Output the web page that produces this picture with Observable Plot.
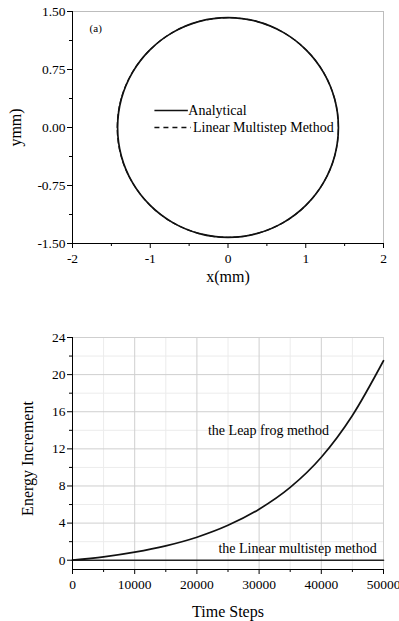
<!DOCTYPE html>
<html><head><meta charset="utf-8">
<script src="https://cdn.jsdelivr.net/npm/d3@7"></script>
<script src="https://cdn.jsdelivr.net/npm/@observablehq/plot@0.6"></script>
<style>
body{margin:0;background:#fff;}
#chart svg{display:block;}
</style>
</head><body><div id="chart"></div>
<script>
// ---------- Panel (a): trajectory ----------
const analyticalX = [1.42,1.372,1.230,1.004,0.710,0.368,0,-0.368,-0.710,-1.004,-1.230,-1.372,-1.42,-1.372,-1.230,-1.004,-0.710,-0.368,0,0.368,0.710,1.004,1.230,1.372];
const analyticalY = [0,0.368,0.710,1.004,1.230,1.372,1.42,1.372,1.230,1.004,0.710,0.368,0,-0.368,-0.710,-1.004,-1.230,-1.372,-1.42,-1.372,-1.230,-1.004,-0.710,-0.368];
const multistepX = [1.42,1.372,1.230,1.004,0.710,0.368,0,-0.368,-0.710,-1.004,-1.232,-1.376,-1.425,-1.376,-1.232,-1.004,-0.710,-0.368,0,0.368,0.710,1.004,1.230,1.372];
const multistepY = [0,0.368,0.710,1.004,1.230,1.372,1.42,1.372,1.230,1.004,0.710,0.368,0,-0.368,-0.710,-1.004,-1.230,-1.372,-1.42,-1.372,-1.230,-1.004,-0.710,-0.368];
const xTicksA = [-2,-1,0,1,2];
const xTickLabelsA = ["-2","-1","0","1","2"];
const xMinorA = [-1.5,-0.5,0.5,1.5];
const yTicksA = [-1.5,-0.75,0,0.75,1.5];
const yTickLabelsA = ["-1.50","-0.75","0.00","0.75","1.50"];
const yMinorA = [-1.125,-0.375,0.375,1.125];
const seriesNamesA = ["Analytical","Linear Multistep Method"];

// ---------- Panel (b): energy increment ----------
const timeSteps = [0,5000,10000,15000,20000,25000,30000,35000,40000,45000,50000];
const leapFrog = [0,0.36,0.87,1.55,2.48,3.76,5.5,7.85,11.1,15.6,21.5];
const linearMultistep = [0,0,0,0,0,0,0,0,0,0,0];
const xTicksB = [0,10000,20000,30000,40000,50000];
const xTickLabelsB = ["0","10000","20000","30000","40000","50000"];
const xMinorB = [5000,15000,25000,35000,45000];
const yTicksB = [0,4,8,12,16,20,24];
const yTickLabelsB = ["0","4","8","12","16","20","24"];
const yMinorB = [2,6,10,14,18,22];
const seriesNamesB = ["the Leap frog method","the Linear multistep method"];

const font = "Liberation Serif";
const lab = (ticks, labels) => d => labels[ticks.indexOf(d)];
const tickStyle = {stroke: "#000", label: null, tickFormat: () => ""};
const txt = {fontFamily: font, fill: "#000"};

const xLabels = (ticks, labels) => Plot.text(ticks, {...txt, x: d => d, text: lab(ticks, labels), frameAnchor: "bottom", lineAnchor: "middle", dy: 15, fontSize: 13.5});
const yLabels = (ticks, labels) => Plot.text(ticks, {...txt, y: d => d, text: lab(ticks, labels), frameAnchor: "left", textAnchor: "end", lineAnchor: "middle", dx: -7, fontSize: 13.5});

const pathA = analyticalX.map((x,i)=>({x, y: analyticalY[i]}));
const pathM = multistepX.map((x,i)=>({x, y: multistepY[i]}));

const topPlot = Plot.plot({
  width: 399, height: 300,
  marginLeft: 72, marginRight: 16, marginTop: 11, marginBottom: 57,
  style: {fontFamily: font, fontSize: "13px", color: "#000", background: "#fff", overflow: "visible"},
  x: {domain: [-2, 2]},
  y: {domain: [-1.5, 1.5]},
  marks: [
    Plot.ruleY([1.5], {stroke: "#bdbdbd"}),
    Plot.ruleX([2], {stroke: "#bdbdbd"}),
    Plot.line(pathA, {x: "x", y: "y", curve: "catmull-rom-closed", stroke: "#111", strokeWidth: 1.7}),
    Plot.line(pathM, {x: "x", y: "y", curve: "catmull-rom-closed", stroke: "#111", strokeWidth: 1.2, strokeDasharray: "5,3"}),
    Plot.ruleX([-2], {stroke: "#000"}),
    Plot.ruleY([-1.5], {stroke: "#000"}),
    Plot.axisX(xTicksA, {...tickStyle, tickSize: 5}),
    Plot.axisX(xMinorA, {...tickStyle, tickSize: 3}),
    Plot.axisY(yTicksA, {...tickStyle, tickSize: 5}),
    Plot.axisY(yMinorA, {...tickStyle, tickSize: 3}),
    xLabels(xTicksA, xTickLabelsA),
    yLabels(yTicksA, yTickLabelsA),
    // legend
    Plot.ruleY([0.22], {x1: -0.94, x2: -0.51, stroke: "#111", strokeWidth: 1.4}),
    Plot.ruleY([0.0], {x1: -0.94, x2: -0.47, stroke: "#111", strokeWidth: 1.4, strokeDasharray: "5,4"}),
    Plot.text([seriesNamesA[0]], {...txt, text: d => d, x: -0.51, y: 0.22, textAnchor: "start", fontSize: 14}),
    Plot.text([seriesNamesA[1]], {...txt, text: d => d, x: -0.45, y: 0.0, textAnchor: "start", fontSize: 14}),
    Plot.text(["(a)"], {...txt, text: d => d, x: -1.78, y: 1.28, textAnchor: "start", fontSize: 11}),
    Plot.text(["x(mm)"], {...txt, text: d => d, frameAnchor: "bottom", textAnchor: "middle", lineAnchor: "middle", dy: 33, fontSize: 16}),
    Plot.text(["ymm)"], {...txt, text: d => d, frameAnchor: "left", textAnchor: "middle", lineAnchor: "middle", dx: -57, rotate: -90, fontSize: 16})
  ]
});

const dataB = timeSteps.map((t,i)=>({t, leap: leapFrog[i], lin: linearMultistep[i]}));

const bottomPlot = Plot.plot({
  width: 399, height: 321,
  marginLeft: 72, marginRight: 16, marginTop: 37, marginBottom: 52,
  style: {fontFamily: font, fontSize: "13px", color: "#000", background: "#fff", overflow: "visible"},
  x: {domain: [0, 50000]},
  y: {domain: [-1, 24]},
  marks: [
    Plot.ruleX(xMinorB, {stroke: "#ececec"}),
    Plot.ruleY(yMinorB, {stroke: "#ececec"}),
    Plot.ruleX(xTicksB.slice(1), {stroke: "#cfcfcf"}),
    Plot.ruleY(yTicksB.slice(1), {stroke: "#cfcfcf"}),
    Plot.line(dataB, {x: "t", y: "lin", stroke: "#222", strokeWidth: 1.6}),
    Plot.line(dataB, {x: "t", y: "leap", curve: "monotone-x", stroke: "#111", strokeWidth: 1.7}),
    Plot.ruleX([0], {stroke: "#000"}),
    Plot.ruleY([-1], {stroke: "#000"}),
    Plot.axisX(xTicksB, {...tickStyle, tickSize: 5}),
    Plot.axisX(xMinorB, {...tickStyle, tickSize: 3}),
    Plot.axisY(yTicksB, {...tickStyle, tickSize: 5}),
    Plot.axisY(yMinorB, {...tickStyle, tickSize: 3}),
    xLabels(xTicksB, xTickLabelsB),
    yLabels(yTicksB, yTickLabelsB),
    Plot.text([seriesNamesB[0]], {...txt, text: d => d, x: 31500, y: 14.0, fontSize: 14}),
    Plot.text([seriesNamesB[1]], {...txt, text: d => d, x: 48900, y: 1.3, textAnchor: "end", fontSize: 14}),
    Plot.text(["Time Steps"], {...txt, text: d => d, frameAnchor: "bottom", textAnchor: "middle", lineAnchor: "middle", dy: 42, fontSize: 16}),
    Plot.text(["Energy Increment"], {...txt, text: d => d, frameAnchor: "left", textAnchor: "middle", lineAnchor: "middle", dx: -45, dy: 5, rotate: -90, fontSize: 16})
  ]
});

const root = document.getElementById("chart");
root.append(topPlot, bottomPlot);
</script>
</body></html>
